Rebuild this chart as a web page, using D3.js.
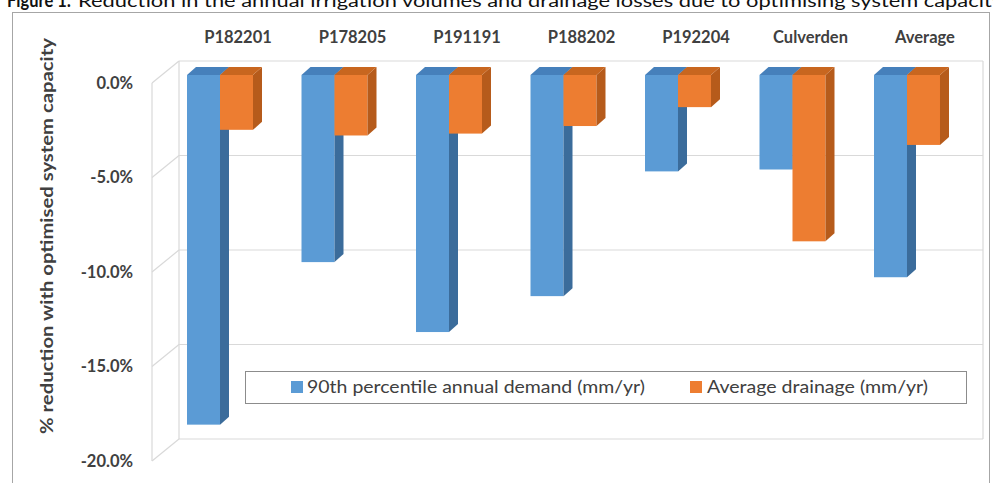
<!DOCTYPE html>
<html><head><meta charset="utf-8">
<script src="https://cdn.jsdelivr.net/npm/d3@7"></script>
<style>html,body{margin:0;padding:0;background:#fff;overflow:hidden}</style>
</head><body>
<script>
const categories = ["P182201","P178205","P191191","P188202","P192204","Culverden","Average"];
const demand   = [-18.5, -9.9, -13.6, -11.7, -5.1, -5.0, -10.7];
const drainage = [-2.9, -3.2, -3.1, -2.7, -1.7, -8.8, -3.7];
const seriesNames = ["90th percentile annual demand (mm/yr)", "Average drainage (mm/yr)"];
const yTicks = [0, -5, -10, -15, -20];
const titleBold = "Figure 1:";
const titleRest = "Reduction in the annual irrigation volumes and drainage losses due to optimising system capacity";
const yTitle = "% reduction with optimised system capacity";

const W = 993, H = 483;
const FONT = "Lato, 'Open Sans', sans-serif";
const cFront = ["#5b9bd5", "#ed7d31"];
const cSide  = ["#3b6c9b", "#b65b1b"];
const cTop   = ["#4680bb", "#c8661f"];

const svg = d3.select("body").append("svg").attr("width", W).attr("height", H);

// scales
const yFront = d3.scaleLinear().domain([0, -20]).range([83, 461]);
const yBack  = d3.scaleLinear().domain([0, -20]).range([61, 439]);
const yBar   = d3.scaleLinear().domain([0, -20]).range([75, 453]);
const x = d3.scaleBand().domain(categories).range([170, 957]).paddingInner(0.4236).paddingOuter(0.1485);
const xSub = d3.scaleBand().domain([0, 1]).range([0, x.bandwidth()]);
const frontX = 152, backX = 179, rightX = 983;
const dx = 9, dy = -8;

// figure title (cut at top, as in the source image)
svg.append("text").attr("x", 7).attr("y", 7).attr("font-family", FONT).attr("font-weight", "bold")
  .attr("font-size", 18).attr("fill", "#111").attr("textLength", 64).attr("lengthAdjust", "spacingAndGlyphs").text(titleBold);
svg.append("text").attr("x", 78).attr("y", 7).attr("font-family", FONT)
  .attr("font-size", 18).attr("fill", "#111").attr("textLength", 925).attr("lengthAdjust", "spacingAndGlyphs").text(titleRest);

// outer frame
svg.append("rect").attr("x", 12.5).attr("y", 12.5).attr("width", 977).attr("height", 490)
  .attr("fill", "none").attr("stroke", "#a6a6a6").attr("stroke-width", 1);

// walls & gridlines
const grid = svg.append("g").attr("stroke", "#d9d9d9").attr("stroke-width", 1.2).attr("fill", "none");
yTicks.forEach(t => {
  grid.append("line").attr("x1", backX).attr("x2", rightX).attr("y1", yBack(t)).attr("y2", yBack(t));
  grid.append("line").attr("x1", frontX).attr("x2", backX).attr("y1", yFront(t)).attr("y2", yBack(t));
});
grid.append("line").attr("x1", frontX).attr("x2", frontX).attr("y1", yFront(0)).attr("y2", yFront(-20));
grid.append("line").attr("x1", backX).attr("x2", backX).attr("y1", yBack(0)).attr("y2", yBack(-20));
grid.append("line").attr("x1", rightX).attr("x2", rightX).attr("y1", yBack(0)).attr("y2", yBack(-20));

// y axis labels
const yAxis = d3.axisLeft(yFront).tickValues(yTicks).tickFormat(d => d.toFixed(1) + "%")
  .tickSize(0).tickPadding(19);
const ga = svg.append("g").attr("transform", `translate(${frontX},0)`).call(yAxis);
ga.select(".domain").remove();
ga.selectAll("text").attr("font-family", FONT).attr("font-size", 16.5).attr("font-weight", "bold").attr("fill", "#404040");

// category labels on top
const xAxis = d3.axisTop(x).tickSize(0).tickPadding(3);
const gx = svg.append("g").attr("transform", `translate(${18},46)`).call(xAxis);
gx.select(".domain").remove();
gx.selectAll("text").attr("font-family", FONT).attr("font-size", 16.5).attr("font-weight", "bold").attr("fill", "#404040");

// y title
svg.append("text").attr("transform", "translate(49,236) rotate(-90)")
  .attr("text-anchor", "middle").attr("dominant-baseline", "middle")
  .attr("font-family", FONT).attr("font-size", 16.5).attr("font-weight", "bold").attr("fill", "#404040")
  .attr("textLength", 396).attr("lengthAdjust", "spacingAndGlyphs").text(yTitle);

// bars
const series = [demand, drainage];
const bars = svg.append("g");
categories.forEach((c, i) => {
  series.forEach((vals, s) => {
    const v = vals[i];
    const x0 = x(c) + xSub(s), w = xSub.bandwidth();
    const y0 = yBar(0), y1 = yBar(v);
    const g = bars.append("g");
    g.append("rect").attr("x", x0).attr("y", y0).attr("width", w).attr("height", y1 - y0).attr("fill", cFront[s]);
    g.append("path").attr("d", `M${x0 + w},${y0}L${x0 + w + dx},${y0 + dy}L${x0 + w + dx},${y1 + dy}L${x0 + w},${y1}Z`).attr("fill", cSide[s]);
    g.append("path").attr("d", `M${x0},${y0}L${x0 + dx},${y0 + dy}L${x0 + w + dx},${y0 + dy}L${x0 + w},${y0}Z`).attr("fill", cTop[s]);
  });
});

// legend
const lg = svg.append("g");
lg.append("rect").attr("x", 245.5).attr("y", 371.5).attr("width", 721).attr("height", 32)
  .attr("fill", "#fff").attr("stroke", "#8c8c8c").attr("stroke-width", 1);
const legItems = [{sx: 291, tx: 307, len: 338}, {sx: 690, tx: 707, len: 221}];
seriesNames.forEach((n, s) => {
  lg.append("rect").attr("x", legItems[s].sx).attr("y", 381).attr("width", 12).attr("height", 12).attr("fill", cFront[s]);
  lg.append("text").attr("x", legItems[s].tx).attr("y", 393).attr("font-family", FONT).attr("font-size", 16.5)
    .attr("fill", "#404040").attr("textLength", legItems[s].len).attr("lengthAdjust", "spacingAndGlyphs").text(n);
});
</script>
</body></html>
